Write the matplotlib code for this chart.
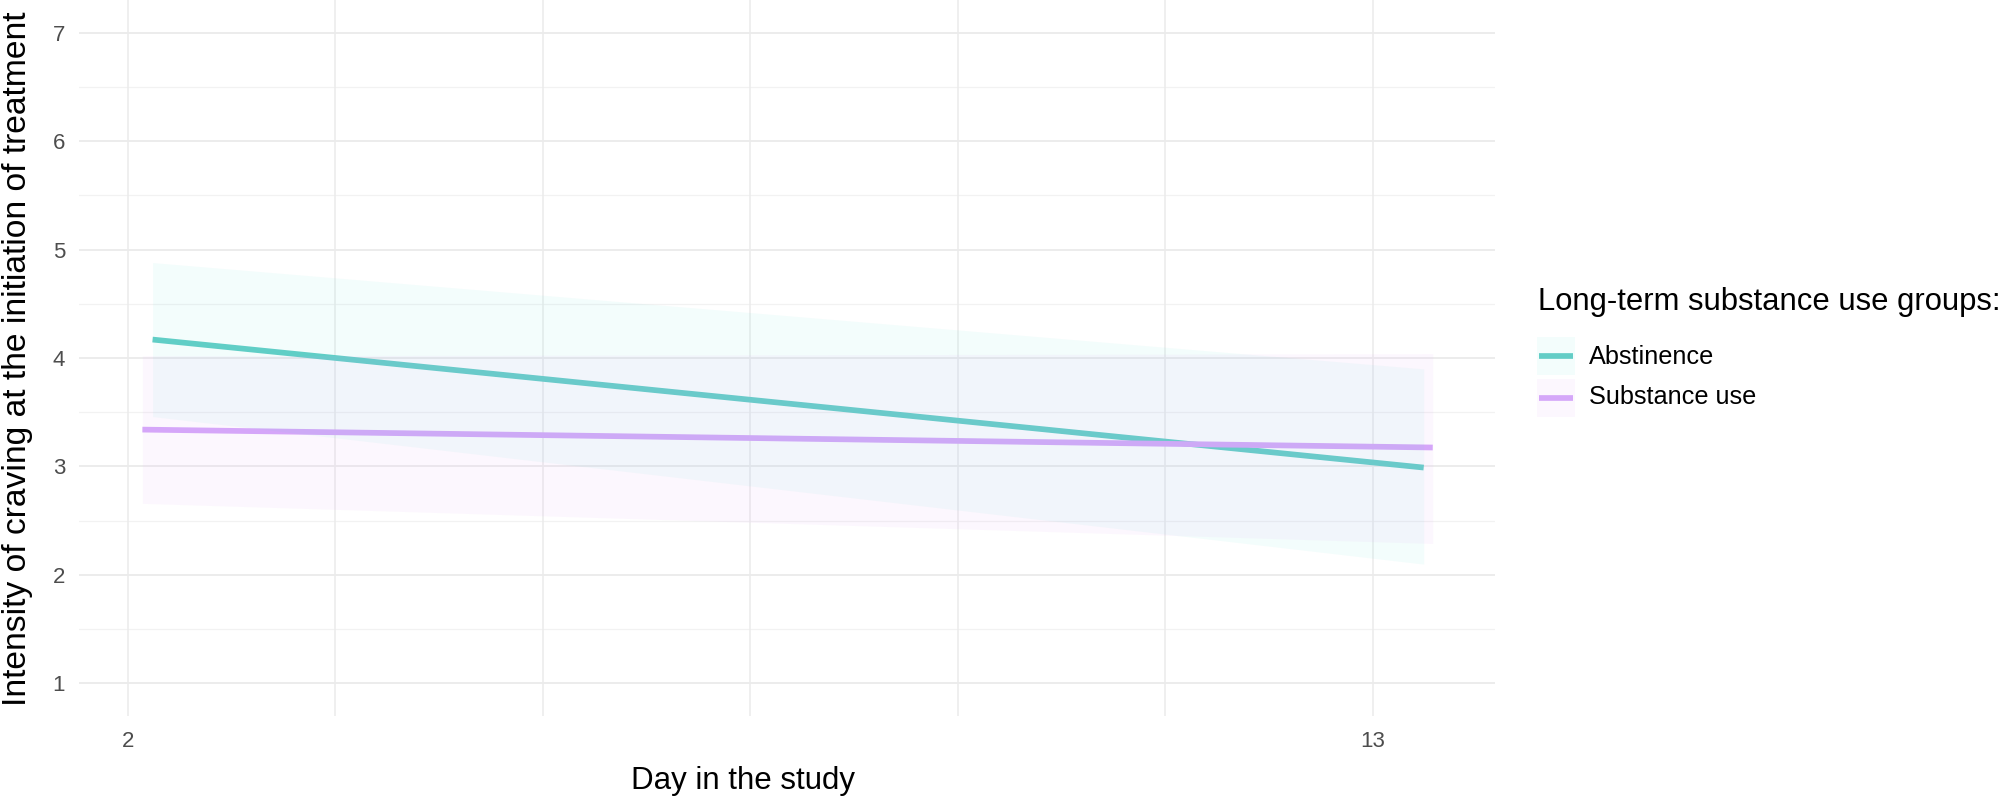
import numpy as np
import matplotlib
matplotlib.use("Agg")
import matplotlib.pyplot as plt
from matplotlib.patches import Rectangle
from matplotlib.lines import Line2D

plt.rcParams['font.family'] = ['Liberation Sans', 'DejaVu Sans']

# ---- data ----
groups = ["Abstinence", "Substance use"]
day_abst = [2.22, 13.45]
fit_abst = [4.17, 2.99]
lo_abst = [3.46, 2.10]
hi_abst = [4.88, 3.90]

day_sub = [2.13, 13.53]
fit_sub = [3.34, 3.175]
lo_sub = [2.66, 2.29]
hi_sub = [4.02, 4.04]

x_ticks = [2.0, 3.8333, 5.6667, 7.5, 9.3333, 11.1667, 13.0]
x_tick_labels = ["2", "", "", "", "", "", "13"]
y_ticks = [1, 2, 3, 4, 5, 6, 7]
y_minor = [1.5, 2.5, 3.5, 4.5, 5.5, 6.5]

line_colors = ["#63CDC6", "#D5A7F9"]
fill_colors = ["#40E0D0", "#E1A0FA"]
fill_alpha = [0.06, 0.08]
LW = 4.1

W, H = 2000, 801
fig = plt.figure(figsize=(W / 100, H / 100), dpi=100)
ax = fig.add_axes([79 / W, 1 - 716 / H, (1495 - 79) / W, 716 / H])

ax.set_xlim(1.57, 14.08)
ax.set_ylim(0.7, 7.3)

# grid
for y in y_ticks:
    ax.axhline(y, color="#EBEBEB", lw=1.3, zorder=0)
for y in y_minor:
    ax.axhline(y, color="#F2F2F2", lw=0.9, zorder=0)
for x in x_ticks:
    ax.axvline(x, color="#EBEBEB", lw=1.1, zorder=0)

series = [
    (day_abst, fit_abst, lo_abst, hi_abst),
    (day_sub, fit_sub, lo_sub, hi_sub),
]
for i, (d, f, lo, hi) in enumerate(series):
    ax.plot(d, f, color=line_colors[i], lw=LW, solid_capstyle="butt", zorder=2,
            label=groups[i])
for i, (d, f, lo, hi) in enumerate(series):
    ax.fill_between(d, lo, hi, color=fill_colors[i], alpha=fill_alpha[i],
                    lw=0, zorder=3)

ax.set_xticks(x_ticks)
ax.set_xticklabels(x_tick_labels)
ax.set_yticks(y_ticks)
ax.tick_params(axis="both", length=0, labelsize=16, labelcolor="#4D4D4D")
ax.tick_params(axis="y", pad=10)
ax.tick_params(axis="x", pad=11)
for s in ax.spines.values():
    s.set_visible(False)
ax.set_facecolor("white")

fig.text(18 / W, 1 - 359 / H, "Intensity of craving at the initiation of treatment",
         rotation=90, ha="center", va="center", fontsize=24.2, color="black")
fig.text(743 / W, 1 - 781 / H, "Day in the study", ha="center", va="center",
         fontsize=22.5, color="black")

# legend (drawn in figure pixel coordinates)
def fx(px):
    return px / W

def fy(py):
    return 1 - py / H

fig.text(fx(1538), fy(310), "Long-term substance use groups:",
         ha="left", va="baseline", fontsize=22.3, color="black")
key_tops = [337, 379]
text_base = [364, 404]
for i in range(2):
    top = key_tops[i]
    fig.add_artist(Rectangle((fx(1537), fy(top + 38)), fx(1575) - fx(1537),
                             38 / H, transform=fig.transFigure,
                             facecolor=fill_colors[i], alpha=fill_alpha[i],
                             edgecolor="none"))
    fig.add_artist(Line2D([fx(1539), fx(1573)], [fy(top + 19), fy(top + 19)],
                          transform=fig.transFigure, color=line_colors[i],
                          lw=LW, solid_capstyle="butt"))
    fig.text(fx(1589), fy(text_base[i]), groups[i], ha="left", va="baseline",
             fontsize=18.2, color="black")

fig.savefig("out.png", dpi=100, facecolor="white")
